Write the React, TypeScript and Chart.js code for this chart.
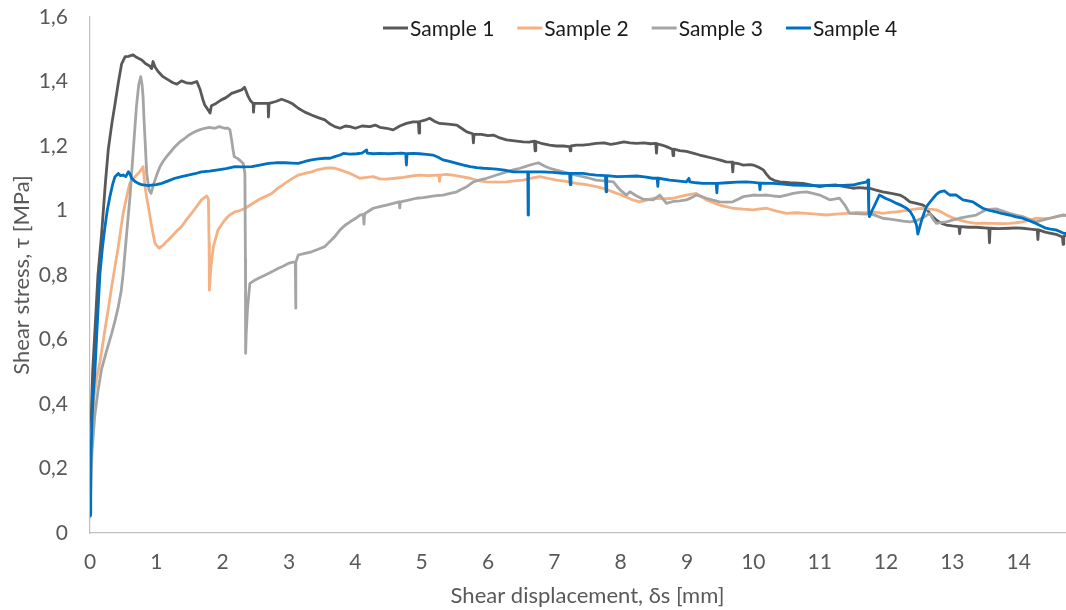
import React, { useEffect, useRef } from "react";
import { Chart, registerables } from "chart.js";

Chart.register(...registerables);

// ---------- DATA ----------
const seriesLabels = ["Sample 1", "Sample 2", "Sample 3", "Sample 4"];
const seriesColors = ["#595959", "#F4B183", "#A5A5A5", "#0070C0"];

const xTickValues = [0, 1, 2, 3, 4, 5, 6, 7, 8, 9, 10, 11, 12, 13, 14];
const yTickLabels = ["0", "0,2", "0,4", "0,6", "0,8", "1", "1,2", "1,4", "1,6"];

const s1X = [0, 0.01, 0.04, 0.075, 0.12, 0.176, 0.23, 0.276, 0.33, 0.377, 0.43, 0.477, 0.53, 0.58, 0.65, 0.7, 0.78, 0.84, 0.9, 0.93, 0.95, 0.98, 1.03, 1.1, 1.18, 1.25, 1.31, 1.38, 1.45, 1.53, 1.61, 1.66, 1.7, 1.73, 1.78, 1.81, 1.83, 1.9, 1.98, 2.05, 2.135, 2.2, 2.286, 2.33, 2.386, 2.42, 2.46, 2.465, 2.475, 2.59, 2.685, 2.69, 2.7, 2.8, 2.89, 2.99, 3.06, 3.14, 3.24, 3.34, 3.44, 3.54, 3.62, 3.69, 3.77, 3.85, 3.92, 4.0, 4.1, 4.22, 4.3, 4.37, 4.47, 4.57, 4.67, 4.77, 4.87, 4.95, 4.96, 4.97, 5.05, 5.12, 5.2, 5.27, 5.4, 5.53, 5.6, 5.68, 5.77, 5.78, 5.79, 5.9, 6.0, 6.08, 6.18, 6.28, 6.4, 6.53, 6.62, 6.7, 6.71, 6.72, 6.82, 6.93, 7.03, 7.13, 7.23, 7.24, 7.25, 7.33, 7.43, 7.53, 7.63, 7.75, 7.85, 7.94, 8.05, 8.14, 8.24, 8.35, 8.45, 8.53, 8.54, 8.55, 8.62, 8.69, 8.78, 8.79, 8.8, 8.89, 8.99, 9.09, 9.19, 9.29, 9.39, 9.49, 9.59, 9.68, 9.69, 9.7, 9.78, 9.85, 9.95, 10.0, 10.08, 10.15, 10.2, 10.25, 10.32, 10.4, 10.55, 10.75, 10.9, 11.0, 11.12, 11.25, 11.38, 11.5, 11.6, 11.7, 11.75, 11.85, 11.95, 12.08, 12.21, 12.28, 12.36, 12.46, 12.56, 12.62, 12.66, 12.72, 12.76, 12.84, 12.91, 13.0, 13.1, 13.11, 13.12, 13.25, 13.36, 13.48, 13.55, 13.56, 13.57, 13.7, 13.86, 13.96, 14.06, 14.18, 14.28, 14.29, 14.3, 14.4, 14.47, 14.58, 14.66, 14.67, 14.68, 14.8, 14.9];
const s1Y = [0.06, 0.3, 0.5, 0.63, 0.8, 0.93, 1.08, 1.19, 1.27, 1.33, 1.4, 1.455, 1.477, 1.478, 1.483, 1.475, 1.467, 1.455, 1.448, 1.44, 1.462, 1.445, 1.43, 1.415, 1.405, 1.396, 1.392, 1.402, 1.396, 1.394, 1.4, 1.375, 1.345, 1.327, 1.312, 1.302, 1.325, 1.332, 1.343, 1.35, 1.363, 1.368, 1.374, 1.382, 1.353, 1.34, 1.332, 1.305, 1.332, 1.332, 1.332, 1.29, 1.332, 1.338, 1.345, 1.337, 1.33, 1.317, 1.305, 1.296, 1.288, 1.281, 1.268, 1.26, 1.255, 1.262, 1.26, 1.255, 1.262, 1.26, 1.265, 1.258, 1.255, 1.25, 1.262, 1.27, 1.275, 1.275, 1.24, 1.276, 1.28, 1.286, 1.276, 1.27, 1.268, 1.265, 1.255, 1.244, 1.238, 1.21, 1.236, 1.236, 1.232, 1.234, 1.225, 1.219, 1.216, 1.213, 1.212, 1.215, 1.185, 1.214, 1.207, 1.203, 1.2, 1.2, 1.198, 1.185, 1.2, 1.203, 1.203, 1.205, 1.208, 1.21, 1.205, 1.208, 1.213, 1.21, 1.208, 1.21, 1.207, 1.208, 1.178, 1.207, 1.203, 1.198, 1.19, 1.17, 1.19, 1.186, 1.183, 1.178, 1.172, 1.167, 1.162, 1.157, 1.151, 1.15, 1.12, 1.148, 1.145, 1.141, 1.142, 1.141, 1.134, 1.126, 1.112, 1.1, 1.093, 1.089, 1.086, 1.084, 1.078, 1.074, 1.078, 1.079, 1.074, 1.069, 1.071, 1.069, 1.069, 1.063, 1.058, 1.053, 1.048, 1.04, 1.027, 1.022, 1.017, 1.003, 0.991, 0.978, 0.97, 0.96, 0.955, 0.952, 0.95, 0.928, 0.95, 0.948, 0.948, 0.946, 0.945, 0.9, 0.945, 0.944, 0.945, 0.946, 0.945, 0.942, 0.94, 0.91, 0.94, 0.933, 0.93, 0.925, 0.918, 0.895, 0.92, 0.93, 0.925];

const s2X = [0, 0.02, 0.06, 0.1, 0.15, 0.226, 0.28, 0.327, 0.38, 0.427, 0.47, 0.5, 0.553, 0.6, 0.68, 0.75, 0.8, 0.83, 0.855, 0.88, 0.93, 0.98, 1.04, 1.105, 1.16, 1.23, 1.3, 1.38, 1.45, 1.53, 1.6, 1.68, 1.76, 1.785, 1.795, 1.8, 1.82, 1.86, 1.93, 2.03, 2.1, 2.185, 2.26, 2.34, 2.44, 2.54, 2.64, 2.74, 2.84, 2.94, 3.04, 3.14, 3.24, 3.34, 3.44, 3.54, 3.62, 3.69, 3.77, 3.85, 3.92, 4.0, 4.07, 4.17, 4.27, 4.37, 4.47, 4.6, 4.72, 4.85, 4.97, 5.1, 5.26, 5.27, 5.28, 5.37, 5.47, 5.6, 5.73, 5.85, 5.98, 6.13, 6.28, 6.4, 6.53, 6.65, 6.78, 6.9, 7.03, 7.18, 7.33, 7.48, 7.63, 7.78, 7.94, 7.99, 8.09, 8.19, 8.29, 8.39, 8.49, 8.64, 8.79, 8.89, 8.99, 9.14, 9.22, 9.29, 9.39, 9.49, 9.59, 9.69, 9.85, 10.0, 10.1, 10.2, 10.35, 10.5, 10.65, 10.8, 10.95, 11.1, 11.25, 11.4, 11.55, 11.7, 11.85, 11.95, 12.06, 12.16, 12.26, 12.36, 12.46, 12.56, 12.66, 12.76, 12.84, 12.91, 13.0, 13.11, 13.23, 13.36, 13.48, 13.61, 13.74, 13.86, 13.96, 14.06, 14.16, 14.26, 14.36, 14.47, 14.57, 14.67, 14.9];
const s2Y = [0.06, 0.3, 0.42, 0.48, 0.53, 0.63, 0.7, 0.764, 0.83, 0.888, 0.95, 0.991, 1.043, 1.084, 1.105, 1.12, 1.136, 1.074, 1.04, 1.012, 0.95, 0.898, 0.883, 0.893, 0.905, 0.919, 0.935, 0.95, 0.97, 0.991, 1.01, 1.033, 1.045, 1.035, 0.9, 0.753, 0.82, 0.888, 0.94, 0.97, 0.985, 0.996, 1.0, 1.007, 1.02, 1.033, 1.043, 1.053, 1.07, 1.084, 1.098, 1.11, 1.115, 1.12, 1.127, 1.131, 1.132, 1.131, 1.126, 1.12, 1.115, 1.107, 1.1, 1.103, 1.105, 1.098, 1.097, 1.1, 1.103, 1.107, 1.11, 1.108, 1.11, 1.09, 1.11, 1.112, 1.11, 1.105, 1.1, 1.093, 1.089, 1.088, 1.089, 1.092, 1.094, 1.1, 1.105, 1.1, 1.094, 1.09, 1.084, 1.08, 1.074, 1.066, 1.053, 1.05, 1.041, 1.032, 1.027, 1.032, 1.038, 1.036, 1.038, 1.043, 1.048, 1.053, 1.043, 1.033, 1.025, 1.017, 1.012, 1.007, 1.004, 1.002, 1.005, 1.007, 0.998, 0.991, 0.993, 0.991, 0.989, 0.986, 0.989, 0.991, 0.994, 0.993, 0.995, 0.991, 0.994, 0.996, 0.999, 1.002, 1.005, 1.007, 1.004, 1.002, 0.995, 0.986, 0.978, 0.97, 0.964, 0.96, 0.961, 0.96, 0.959, 0.96, 0.962, 0.965, 0.97, 0.976, 0.975, 0.976, 0.981, 0.986, 0.984];

const s3X = [0, 0.03, 0.07, 0.12, 0.176, 0.25, 0.327, 0.38, 0.427, 0.47, 0.5, 0.553, 0.603, 0.653, 0.7, 0.735, 0.765, 0.785, 0.8, 0.815, 0.83, 0.855, 0.89, 0.92, 0.95, 0.98, 1.02, 1.055, 1.1, 1.155, 1.22, 1.28, 1.35, 1.43, 1.5, 1.58, 1.65, 1.73, 1.8, 1.88, 1.95, 2.03, 2.08, 2.11, 2.135, 2.155, 2.175, 2.235, 2.31, 2.335, 2.343, 2.346, 2.355, 2.376, 2.41, 2.47, 2.54, 2.62, 2.69, 2.77, 2.84, 2.92, 2.99, 3.06, 3.095, 3.1, 3.105, 3.14, 3.24, 3.34, 3.44, 3.54, 3.62, 3.69, 3.77, 3.85, 3.92, 4.0, 4.07, 4.12, 4.13, 4.14, 4.27, 4.37, 4.47, 4.57, 4.66, 4.67, 4.68, 4.8, 4.92, 5.02, 5.12, 5.22, 5.32, 5.43, 5.53, 5.6, 5.68, 5.78, 5.88, 5.98, 6.13, 6.28, 6.38, 6.48, 6.56, 6.63, 6.7, 6.76, 6.85, 6.93, 7.03, 7.13, 7.28, 7.43, 7.53, 7.63, 7.75, 7.89, 7.94, 7.99, 8.09, 8.14, 8.24, 8.34, 8.49, 8.59, 8.64, 8.69, 8.79, 8.89, 8.99, 9.07, 9.14, 9.22, 9.29, 9.39, 9.49, 9.6, 9.69, 9.77, 9.85, 10.0, 10.1, 10.2, 10.3, 10.4, 10.5, 10.6, 10.7, 10.8, 10.9, 11.0, 11.08, 11.15, 11.22, 11.3, 11.38, 11.45, 11.55, 11.7, 11.75, 11.85, 11.95, 12.06, 12.16, 12.26, 12.36, 12.46, 12.56, 12.66, 12.72, 12.76, 12.84, 12.91, 13.0, 13.11, 13.23, 13.36, 13.44, 13.51, 13.6, 13.66, 13.76, 13.86, 13.96, 14.06, 14.16, 14.26, 14.36, 14.47, 14.57, 14.67, 14.9];
const s3Y = [0.05, 0.25, 0.36, 0.44, 0.51, 0.565, 0.619, 0.66, 0.702, 0.75, 0.805, 0.929, 1.043, 1.188, 1.322, 1.39, 1.415, 1.39, 1.353, 1.28, 1.219, 1.115, 1.064, 1.053, 1.075, 1.095, 1.118, 1.136, 1.152, 1.167, 1.183, 1.198, 1.212, 1.224, 1.235, 1.244, 1.25, 1.255, 1.258, 1.255, 1.26, 1.255, 1.255, 1.25, 1.219, 1.19, 1.167, 1.16, 1.146, 1.116, 0.85, 0.557, 0.62, 0.7, 0.774, 0.782, 0.79, 0.798, 0.805, 0.813, 0.821, 0.828, 0.836, 0.84, 0.84, 0.697, 0.84, 0.862, 0.867, 0.872, 0.88, 0.888, 0.905, 0.919, 0.94, 0.955, 0.965, 0.975, 0.986, 0.988, 0.958, 0.99, 1.007, 1.012, 1.017, 1.022, 1.027, 1.008, 1.027, 1.032, 1.038, 1.04, 1.043, 1.046, 1.048, 1.053, 1.058, 1.066, 1.074, 1.089, 1.095, 1.1, 1.11, 1.12, 1.126, 1.131, 1.136, 1.141, 1.145, 1.148, 1.138, 1.131, 1.125, 1.12, 1.112, 1.105, 1.1, 1.094, 1.092, 1.089, 1.076, 1.064, 1.048, 1.058, 1.045, 1.035, 1.033, 1.048, 1.035, 1.022, 1.028, 1.03, 1.033, 1.04, 1.048, 1.043, 1.038, 1.032, 1.027, 1.026, 1.027, 1.035, 1.043, 1.048, 1.047, 1.048, 1.045, 1.043, 1.048, 1.053, 1.056, 1.058, 1.053, 1.048, 1.04, 1.033, 1.035, 1.038, 1.017, 0.991, 0.99, 0.989, 0.991, 0.984, 0.976, 0.973, 0.97, 0.967, 0.965, 0.968, 0.978, 0.991, 0.97, 0.96, 0.963, 0.965, 0.97, 0.976, 0.981, 0.986, 0.995, 1.002, 1.004, 1.005, 0.998, 0.991, 0.986, 0.981, 0.973, 0.965, 0.97, 0.976, 0.981, 0.986, 0.98];

const s4X = [0, 0.01, 0.03, 0.05, 0.075, 0.11, 0.15, 0.19, 0.226, 0.26, 0.3, 0.34, 0.377, 0.427, 0.46, 0.5, 0.54, 0.578, 0.6, 0.628, 0.68, 0.728, 0.78, 0.829, 0.88, 0.93, 1.0, 1.08, 1.18, 1.28, 1.38, 1.48, 1.58, 1.68, 1.8, 1.93, 2.05, 2.185, 2.3, 2.44, 2.56, 2.69, 2.8, 2.94, 3.04, 3.14, 3.24, 3.34, 3.44, 3.54, 3.62, 3.69, 3.77, 3.82, 3.92, 4.02, 4.1, 4.17, 4.18, 4.27, 4.37, 4.5, 4.62, 4.7, 4.76, 4.77, 4.78, 4.87, 4.97, 5.07, 5.17, 5.25, 5.32, 5.42, 5.53, 5.63, 5.73, 5.83, 5.93, 6.03, 6.13, 6.25, 6.38, 6.5, 6.6, 6.605, 6.61, 6.7, 6.83, 6.98, 7.13, 7.23, 7.24, 7.25, 7.43, 7.53, 7.63, 7.77, 7.78, 7.79, 7.94, 8.09, 8.24, 8.36, 8.49, 8.55, 8.56, 8.57, 8.74, 8.85, 8.99, 9.03, 9.04, 9.14, 9.24, 9.36, 9.44, 9.45, 9.46, 9.6, 9.75, 9.89, 10.0, 10.09, 10.1, 10.11, 10.3, 10.45, 10.6, 10.75, 10.9, 11.05, 11.2, 11.35, 11.5, 11.6, 11.7, 11.73, 11.74, 11.75, 11.79, 11.83, 11.9, 11.99, 12.08, 12.16, 12.24, 12.31, 12.37, 12.41, 12.46, 12.48, 12.53, 12.57, 12.61, 12.66, 12.71, 12.76, 12.81, 12.88, 12.96, 13.06, 13.16, 13.24, 13.31, 13.38, 13.46, 13.56, 13.66, 13.76, 13.86, 13.96, 14.06, 14.16, 14.26, 14.34, 14.41, 14.48, 14.56, 14.62, 14.67, 14.9];
const s4Y = [0.055, 0.2, 0.35, 0.43, 0.505, 0.65, 0.805, 0.89, 0.95, 1.0, 1.043, 1.08, 1.105, 1.115, 1.108, 1.11, 1.105, 1.12, 1.115, 1.1, 1.09, 1.084, 1.08, 1.079, 1.077, 1.079, 1.08, 1.084, 1.092, 1.1, 1.105, 1.11, 1.114, 1.12, 1.122, 1.126, 1.13, 1.136, 1.135, 1.136, 1.141, 1.146, 1.148, 1.148, 1.147, 1.146, 1.152, 1.157, 1.16, 1.162, 1.162, 1.167, 1.172, 1.177, 1.175, 1.176, 1.178, 1.188, 1.178, 1.176, 1.177, 1.176, 1.177, 1.178, 1.176, 1.141, 1.176, 1.177, 1.176, 1.174, 1.172, 1.165, 1.157, 1.152, 1.146, 1.141, 1.136, 1.133, 1.131, 1.13, 1.128, 1.125, 1.12, 1.12, 1.12, 0.986, 1.12, 1.12, 1.12, 1.118, 1.115, 1.115, 1.08, 1.115, 1.115, 1.112, 1.11, 1.108, 1.058, 1.108, 1.105, 1.106, 1.107, 1.104, 1.1, 1.1, 1.075, 1.1, 1.094, 1.092, 1.089, 1.1, 1.089, 1.086, 1.084, 1.084, 1.084, 1.055, 1.084, 1.086, 1.088, 1.089, 1.087, 1.085, 1.065, 1.085, 1.084, 1.082, 1.079, 1.078, 1.077, 1.077, 1.077, 1.078, 1.079, 1.084, 1.088, 1.095, 1.0, 0.981, 1.0, 1.017, 1.048, 1.038, 1.03, 1.022, 1.015, 1.007, 0.995, 0.981, 0.955, 0.927, 0.965, 0.99, 1.012, 1.025, 1.038, 1.05, 1.058, 1.061, 1.048, 1.048, 1.033, 1.03, 1.027, 1.017, 1.007, 1.0, 0.996, 0.99, 0.986, 0.98, 0.976, 0.968, 0.96, 0.952, 0.945, 0.942, 0.94, 0.935, 0.93, 0.925];

const seriesX = [s1X, s2X, s3X, s4X];
const seriesY = [s1Y, s2Y, s3Y, s4Y];

const xAxisTitle = "Shear displacement, δs [mm]";
const yAxisTitle = "Shear stress, τ [MPa]";

// ---------- CHART ----------
const FONT = "Lato";
const AXIS_GREY = "#595959";

const legendPlugin = {
  id: "customLegend",
  afterDraw(chart: any) {
    const ctx = chart.ctx;
    ctx.save();
    ctx.font = `21px ${FONT}`;
    ctx.textBaseline = "middle";
    ctx.textAlign = "left";
    let x = 383;
    const y = 28;
    chart.data.datasets.forEach((ds: any) => {
      ctx.strokeStyle = ds.borderColor;
      ctx.lineWidth = 3;
      ctx.beginPath();
      ctx.moveTo(x, y);
      ctx.lineTo(x + 25, y);
      ctx.stroke();
      ctx.fillStyle = "#1a1a1a";
      ctx.fillText(ds.label, x + 27, y + 1);
      x += 27 + ctx.measureText(ds.label).width + 23;
    });
    ctx.restore();
  },
};

export default function App() {
  const canvasRef = useRef<HTMLCanvasElement | null>(null);

  useEffect(() => {
    document.body.style.margin = "0";
    const canvas = canvasRef.current;
    if (!canvas) return;
    Chart.defaults.font.family = FONT;

    const datasets = seriesLabels.map((label, i) => ({
      label,
      data: seriesX[i].map((x, j) => ({ x, y: seriesY[i][j] })),
      borderColor: seriesColors[i],
      backgroundColor: seriesColors[i],
      borderWidth: 2.8,
      pointRadius: 0,
      tension: 0,
      borderJoinStyle: "round" as const,
      borderCapStyle: "round" as const,
      order: seriesLabels.length - i,
    }));

    const chart = new Chart(canvas, {
      type: "line",
      data: { datasets },
      options: {
        animation: false,
        responsive: false,
        maintainAspectRatio: false,
        layout: { padding: { top: 17, left: 0, right: 0, bottom: 0 } },
        plugins: {
          legend: { display: false },
          title: { display: false },
          tooltip: { enabled: false },
        },
        scales: {
          x: {
            type: "linear",
            min: 0,
            max: 15,
            grid: { display: false, drawTicks: false },
            border: { display: true, color: "#BFBFBF", width: 1.2 },
            afterBuildTicks: (axis: any) => {
              axis.ticks = xTickValues.map((v) => ({ value: v }));
            },
            ticks: {
              color: AXIS_GREY,
              font: { size: 21, family: FONT },
              padding: 17,
              maxRotation: 0,
              autoSkip: false,
              callback: (v: any) => String(v),
            },
            title: {
              display: true,
              text: xAxisTitle,
              color: AXIS_GREY,
              font: { size: 22, family: FONT },
              padding: { top: 0, bottom: 1 },
            },
            afterFit: (scale: any) => {
              scale.height = 77;
              scale.paddingLeft = 0;
              scale.paddingRight = 0;
            },
          },
          y: {
            type: "linear",
            min: 0,
            max: 1.6,
            grid: { display: false, drawTicks: false },
            border: { display: true, color: "#BFBFBF", width: 1.2 },
            afterBuildTicks: (axis: any) => {
              axis.ticks = yTickLabels.map((_, i) => ({ value: i * 0.2 }));
            },
            ticks: {
              color: AXIS_GREY,
              font: { size: 21, family: FONT },
              padding: 22,
              autoSkip: false,
              callback: (_v: any, i: number) => yTickLabels[i],
            },
            title: {
              display: true,
              text: yAxisTitle,
              color: AXIS_GREY,
              font: { size: 22, family: FONT },
              padding: { top: 9, bottom: 0 },
            },
            afterFit: (scale: any) => {
              scale.width = 90;
              scale.paddingTop = 0;
              scale.paddingBottom = 0;
            },
          },
        },
      },
      plugins: [legendPlugin],
    });

    return () => chart.destroy();
  }, []);

  return (
    <div style={{ width: 1066, height: 610, overflow: "hidden", background: "#fff" }}>
      <canvas ref={canvasRef} width={1085} height={610} style={{ display: "block" }} />
    </div>
  );
}
